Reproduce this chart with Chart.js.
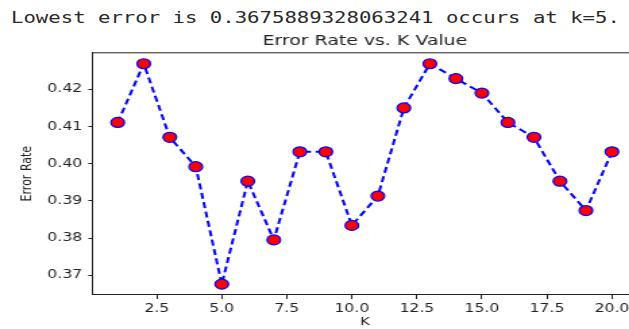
<!DOCTYPE html>
<html>
<head>
<meta charset="utf-8">
<script src="https://cdn.jsdelivr.net/npm/chart.js"></script>
<style>
  html, body { margin: 0; padding: 0; width: 629px; height: 329px; overflow: hidden; background: #fff; }
  #note {
    position: absolute; left: 11px; top: 8px;
    font: 16px "DejaVu Sans Mono", monospace; color: #2a2a2a;
    white-space: pre; transform: scaleX(1.29); transform-origin: 0 0;
  }
  /* the reference picture is stretched sideways, so the chart is too */
  #wrap {
    position: absolute; left: 0; top: 0; width: 481px; height: 329px;
    transform: scaleX(1.35); transform-origin: 0 0;
  }
</style>
</head>
<body>
<div id="note">Lowest error is 0.3675889328063241 occurs at k=5.</div>
<div id="wrap"><canvas id="myChart" width="481" height="329"></canvas></div>
<script>
const kValues = [1, 2, 3, 4, 5, 6, 7, 8, 9, 10, 11, 12, 13, 14, 15, 16, 17, 18, 19, 20]
const errorRates = [0.4111, 0.4269, 0.4071, 0.3992, 0.3676, 0.3953, 0.3795, 0.4032, 0.4032, 0.3834,
                    0.3913, 0.4150, 0.4269, 0.4229, 0.4190, 0.4111, 0.4071, 0.3953, 0.3874, 0.4032]
const xTicks = [2.5, 5.0, 7.5, 10.0, 12.5, 15.0, 17.5, 20.0]
const yTicks = [0.37, 0.38, 0.39, 0.40, 0.41, 0.42]

const font = (size) => ({ family: "'DejaVu Sans', sans-serif", size: size })

// matplotlib draws a full box, chart.js only the left and bottom borders
const boxPlugin = {
  id: 'box',
  afterDraw(chart) {
    const { ctx, chartArea } = chart
    ctx.save()
    ctx.strokeStyle = '#222'
    ctx.lineWidth = 1
    ctx.beginPath()
    ctx.moveTo(chartArea.left, chartArea.top)
    ctx.lineTo(chartArea.right, chartArea.top)
    ctx.lineTo(chartArea.right, chartArea.bottom)
    ctx.stroke()
    ctx.restore()
  }
}

const createChart = () => {
  const ctx = document.getElementById('myChart')
  new Chart(ctx, {
    type: 'line',
    data: {
      datasets: [{
        label: 'Error Rate',
        data: kValues.map((k, i) => ({ x: k, y: errorRates[i] })),
        borderColor: '#0000ff',
        borderWidth: 2,
        borderDash: [6, 3.5],
        pointRadius: 5,
        pointBorderWidth: 1.2,
        pointBorderColor: '#0000ff',
        pointBackgroundColor: '#ff0000',
        tension: 0
      }]
    },
    plugins: [boxPlugin],
    options: {
      responsive: false,
      animation: false,
      events: [],
      layout: { padding: { top: 28, right: 9.4, left: 0, bottom: 0 } },
      plugins: {
        legend: { display: false },
        tooltip: { enabled: false },
        title: {
          display: true,
          text: 'Error Rate vs. K Value',
          fullSize: false,
          color: '#222',
          font: { ...font(14), weight: 'normal' },
          padding: { top: 5, bottom: 3 }
        }
      },
      scales: {
        x: {
          type: 'linear',
          min: 0.05,
          max: 20.95,
          afterBuildTicks: (scale) => { scale.ticks = xTicks.map(v => ({ value: v })) },
          afterFit: (scale) => { scale.height = 34.5 },
          border: { color: '#222', width: 1 },
          grid: { drawOnChartArea: false, tickLength: 4.5, tickColor: '#222' },
          ticks: { color: '#222', font: font(11.6), padding: 3, maxRotation: 0, autoSkip: false,
                   callback: (v) => Number(v).toFixed(1) },
          title: { display: true, text: 'K', color: '#222', font: font(11), padding: { top: 0, bottom: 0 } }
        },
        y: {
          min: 0.36481,
          max: 0.42984,
          afterBuildTicks: (scale) => { scale.ticks = yTicks.map(v => ({ value: v })) },
          afterFit: (scale) => { scale.width = 68.9 },
          border: { color: '#222', width: 1 },
          grid: { drawOnChartArea: false, tickLength: 3.5, tickColor: '#222' },
          ticks: { color: '#222', font: font(11.6), padding: 4.5, autoSkip: false,
                   callback: (v) => Number(v).toFixed(2) },
          title: { display: true, text: 'Error Rate', color: '#222', font: font(11), padding: { top: 13.6, bottom: 0 } }
        }
      }
    }
  })
}

createChart()
</script>
</body>
</html>
